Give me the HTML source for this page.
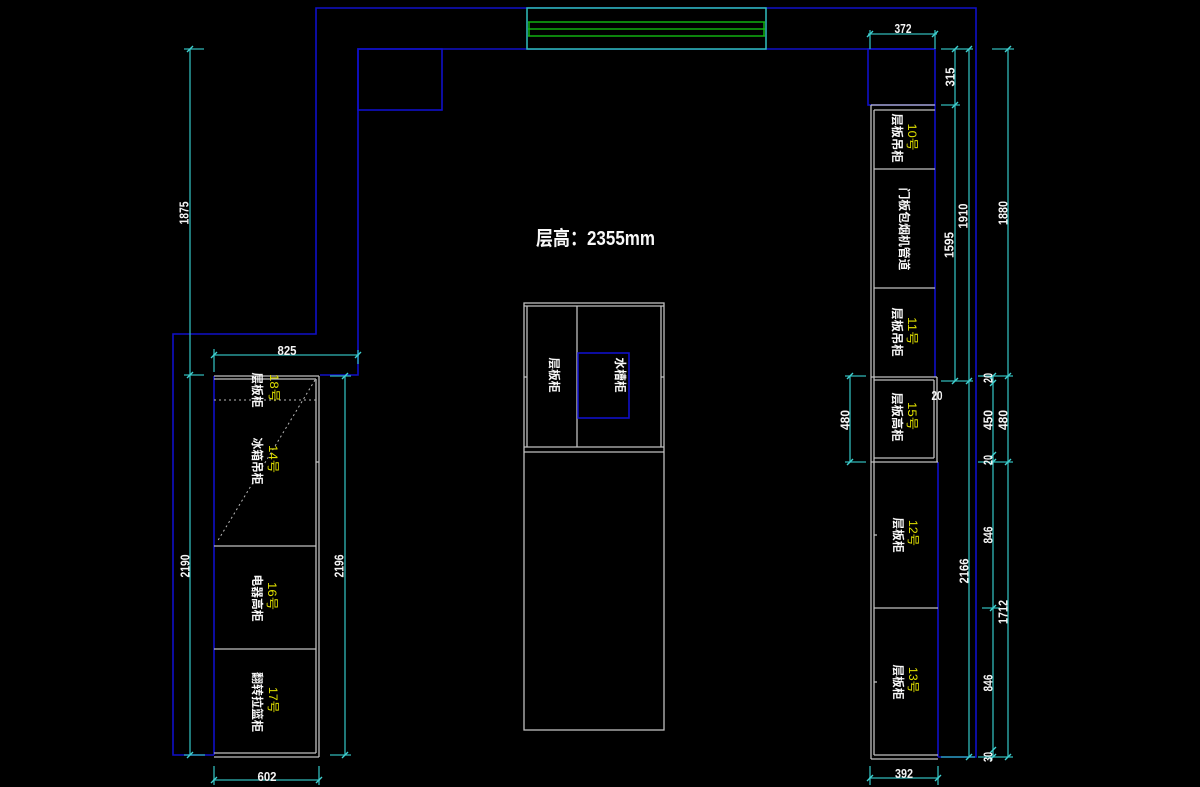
<!DOCTYPE html>
<html><head><meta charset="utf-8"><style>
html,body{margin:0;padding:0;background:#000;}
svg{display:block;}
text{font-family:"Liberation Sans","Noto Sans CJK SC",sans-serif;}
.b{stroke:#1010c8;stroke-width:1.6;fill:none;}
.c{stroke:#30b8b8;stroke-width:1.3;fill:none;}
.g{stroke:#c0c0c0;stroke-width:1.3;fill:none;}
.gn{stroke:#10b010;stroke-width:1.5;fill:none;}
.w{fill:#f8f8f8;font-size:12px;font-weight:bold;}
.y{fill:#e0e000;font-size:12px;}
.n{fill:#f4f4f4;font-size:13px;font-weight:bold;font-family:"Liberation Sans Narrow","Liberation Sans",sans-serif;}
</style></head><body>
<svg width="1200" height="787" viewBox="0 0 1200 787" xmlns="http://www.w3.org/2000/svg">
<rect width="1200" height="787" fill="#000"/>

<!-- blue walls -->
<polyline class="b" points="214,755 173,755 173,334 316,334 316,8 976,8 976,757 938,757"/>
<polyline class="b" points="320,375 358,375 358,49 935,49"/>
<rect class="b" x="358" y="49" width="84" height="61"/>
<rect class="b" x="868" y="49" width="67" height="56"/>
<line class="b" x1="214" y1="376" x2="214" y2="755"/>
<line class="b" x1="935" y1="105" x2="935" y2="377"/>
<line class="b" x1="938" y1="462" x2="938" y2="757"/>

<!-- hood box -->
<rect x="527" y="8" width="239" height="41" fill="#000" stroke="#30c0c0" stroke-width="1.5"/>
<line class="gn" x1="528" y1="22" x2="765" y2="22"/>
<line class="gn" x1="528" y1="29" x2="765" y2="29"/>
<line class="gn" x1="528" y1="36" x2="765" y2="36"/>
<line class="gn" x1="529" y1="22" x2="529" y2="36"/>
<line class="gn" x1="764" y1="22" x2="764" y2="36"/>

<!-- left cabinets -->
<line class="g" x1="214" y1="376" x2="319" y2="376"/>
<line class="g" x1="214" y1="379" x2="316" y2="379"/>
<line class="g" x1="319" y1="376" x2="319" y2="757"/>
<line class="g" x1="316" y1="379" x2="316" y2="753"/>
<line class="g" x1="214" y1="546" x2="316" y2="546"/>
<line class="g" x1="214" y1="649" x2="316" y2="649"/>
<line class="g" x1="214" y1="753" x2="316" y2="753"/>
<line class="g" x1="214" y1="757" x2="319" y2="757"/>
<line x1="214" y1="400" x2="316" y2="400" stroke="#b8b8b8" stroke-width="1" stroke-dasharray="2,3"/>
<line x1="315" y1="380" x2="217" y2="542" stroke="#b8b8b8" stroke-width="1" stroke-dasharray="2,3"/>
<line class="g" x1="316" y1="462" x2="319" y2="462"/>

<!-- right cabinets -->
<line class="g" x1="871" y1="105" x2="935" y2="105"/>
<line class="g" x1="874" y1="110" x2="935" y2="110"/>
<line class="g" x1="871" y1="105" x2="871" y2="759"/>
<line class="g" x1="874" y1="110" x2="874" y2="755"/>
<line class="g" x1="874" y1="169" x2="935" y2="169"/>
<line class="g" x1="874" y1="288" x2="935" y2="288"/>
<line class="g" x1="871" y1="377" x2="937" y2="377"/>
<line class="g" x1="874" y1="380" x2="934" y2="380"/>
<line class="g" x1="937" y1="377" x2="937" y2="462"/>
<line class="g" x1="934" y1="380" x2="934" y2="458"/>
<line class="g" x1="874" y1="458" x2="934" y2="458"/>
<line class="g" x1="871" y1="462" x2="938" y2="462"/>
<line class="g" x1="874" y1="608" x2="938" y2="608"/>
<line class="g" x1="874" y1="755" x2="938" y2="755"/>
<line class="g" x1="871" y1="759" x2="938" y2="759"/>
<line class="g" x1="874" y1="535" x2="877" y2="535"/>
<line class="g" x1="874" y1="682" x2="877" y2="682"/>

<!-- island -->
<rect class="g" x="524" y="303" width="140" height="427"/>
<line class="g" x1="524" y1="306" x2="664" y2="306"/>
<line class="g" x1="527" y1="306" x2="527" y2="447"/>
<line class="g" x1="661" y1="306" x2="661" y2="447"/>
<line class="g" x1="577" y1="306" x2="577" y2="447"/>
<line class="g" x1="524" y1="447" x2="664" y2="447"/>
<line class="g" x1="524" y1="452" x2="664" y2="452"/>
<line class="g" x1="524" y1="377" x2="527" y2="377"/>
<line class="g" x1="661" y1="377" x2="664" y2="377"/>
<rect class="b" x="578" y="353" width="51" height="65"/>

<!-- dimension lines -->
<g class="c">
<line x1="190" y1="49" x2="190" y2="755"/>
<line x1="184" y1="49" x2="204" y2="49"/><line x1="184" y1="375" x2="204" y2="375"/><line x1="184" y1="755" x2="205" y2="755"/>
<line x1="345" y1="376" x2="345" y2="755"/>
<line x1="330" y1="376" x2="351" y2="376"/><line x1="330" y1="755" x2="351" y2="755"/>
<line x1="850" y1="376" x2="850" y2="462"/>
<line x1="845" y1="376" x2="866" y2="376"/><line x1="845" y1="462" x2="866" y2="462"/>
<line x1="955" y1="49" x2="955" y2="381"/>
<line x1="941" y1="49" x2="973" y2="49"/><line x1="941" y1="105" x2="960" y2="105"/><line x1="941" y1="381" x2="973" y2="381"/>
<line x1="969" y1="49" x2="969" y2="757"/>
<line x1="941" y1="757" x2="975" y2="757"/>
<line x1="993" y1="376" x2="993" y2="757"/>
<line x1="1008" y1="49" x2="1008" y2="757"/>
<line x1="992" y1="49" x2="1014" y2="49"/>
<line x1="978" y1="376" x2="1013" y2="376"/><line x1="978" y1="462" x2="1013" y2="462"/>
<line x1="982" y1="608" x2="1000" y2="608"/>
<line x1="978" y1="757" x2="1013" y2="757"/>
<line x1="868" y1="34" x2="937" y2="34"/>
<line x1="870" y1="30" x2="870" y2="49"/><line x1="935" y1="30" x2="935" y2="49"/>
<line x1="213" y1="355" x2="359" y2="355"/>
<line x1="214" y1="349" x2="214" y2="372"/><line x1="358" y1="350" x2="358" y2="364"/>
<line x1="213" y1="780" x2="320" y2="780"/>
<line x1="214" y1="766" x2="214" y2="785"/><line x1="319" y1="766" x2="319" y2="785"/>
<line x1="869" y1="778" x2="939" y2="778"/>
<line x1="870" y1="766" x2="870" y2="785"/><line x1="938" y1="766" x2="938" y2="785"/>
</g>
<!-- ticks -->
<g stroke="#40d0d0" stroke-width="1.4">
<path d="M187,52 L193,46 M187,378 L193,372 M187,758 L193,752 M342,379 L348,373 M342,758 L348,752 M847,379 L853,373 M847,465 L853,459 M952,52 L958,46 M952,108 L958,102 M952,384 L958,378 M966,52 L972,46 M966,384 L972,378 M966,760 L972,754 M990,379 L996,373 M990,386 L996,380 M990,458 L996,452 M990,465 L996,459 M990,611 L996,605 M990,753 L996,747 M990,760 L996,754 M1005,52 L1011,46 M1005,379 L1011,373 M1005,465 L1011,459 M1005,760 L1011,754 M867,37 L873,31 M932,37 L938,31 M211,358 L217,352 M355,358 L361,352 M211,783 L217,777 M316,783 L322,777 M867,781 L873,775 M935,781 L941,775"/>
</g>

<!-- title -->
<text x="536" y="245" fill="#f8f8f8" font-size="20" font-weight="bold" textLength="119" lengthAdjust="spacingAndGlyphs">层高：2355mm</text>

<!-- horizontal dim text -->
<text class="n" x="287" y="355" text-anchor="middle" textLength="19" lengthAdjust="spacingAndGlyphs">825</text>
<text class="n" x="267" y="781" text-anchor="middle" textLength="19" lengthAdjust="spacingAndGlyphs">602</text>
<text class="n" x="903" y="33" text-anchor="middle" textLength="17" lengthAdjust="spacingAndGlyphs">372</text>
<text class="n" x="904" y="778" text-anchor="middle" textLength="18" lengthAdjust="spacingAndGlyphs">392</text>
<text class="n" x="937" y="400" text-anchor="middle" textLength="11" lengthAdjust="spacingAndGlyphs">20</text>

<!-- vertical dim text (rotate -90) -->
<g class="n" text-anchor="middle" dominant-baseline="central">
<text transform="translate(184,213) rotate(-90)" textLength="23" lengthAdjust="spacingAndGlyphs">1875</text>
<text transform="translate(185,566) rotate(-90)" textLength="23" lengthAdjust="spacingAndGlyphs">2190</text>
<text transform="translate(339,566) rotate(-90)" textLength="23" lengthAdjust="spacingAndGlyphs">2196</text>
<text transform="translate(845,420) rotate(-90)" textLength="20" lengthAdjust="spacingAndGlyphs">480</text>
<text transform="translate(950,77) rotate(-90)" textLength="19" lengthAdjust="spacingAndGlyphs">315</text>
<text transform="translate(949,245) rotate(-90)" textLength="26" lengthAdjust="spacingAndGlyphs">1595</text>
<text transform="translate(963,216) rotate(-90)" textLength="25" lengthAdjust="spacingAndGlyphs">1910</text>
<text transform="translate(1003,213) rotate(-90)" textLength="24" lengthAdjust="spacingAndGlyphs">1880</text>
<text transform="translate(964,571) rotate(-90)" textLength="25" lengthAdjust="spacingAndGlyphs">2166</text>
<text transform="translate(988,378) rotate(-90)" textLength="10" lengthAdjust="spacingAndGlyphs">20</text>
<text transform="translate(988,420) rotate(-90)" textLength="20" lengthAdjust="spacingAndGlyphs">450</text>
<text transform="translate(988,460) rotate(-90)" textLength="10" lengthAdjust="spacingAndGlyphs">20</text>
<text transform="translate(988,535) rotate(-90)" textLength="17" lengthAdjust="spacingAndGlyphs">846</text>
<text transform="translate(988,683) rotate(-90)" textLength="17" lengthAdjust="spacingAndGlyphs">846</text>
<text transform="translate(988,757) rotate(-90)" textLength="10" lengthAdjust="spacingAndGlyphs">30</text>
<text transform="translate(1003,420) rotate(-90)" textLength="20" lengthAdjust="spacingAndGlyphs">480</text>
<text transform="translate(1003,612) rotate(-90)" textLength="24" lengthAdjust="spacingAndGlyphs">1712</text>
</g>

<!-- cabinet labels (rotate 90) -->
<g text-anchor="middle" dominant-baseline="central">
<text class="w" transform="translate(257,390) rotate(90)" textLength="35" lengthAdjust="spacingAndGlyphs">层板柜</text>
<text class="y" transform="translate(274,388) rotate(90)" textLength="28" lengthAdjust="spacingAndGlyphs">18号</text>
<text class="w" transform="translate(257,461) rotate(90)" textLength="47" lengthAdjust="spacingAndGlyphs">冰箱吊柜</text>
<text class="y" transform="translate(273,459) rotate(90)" textLength="28" lengthAdjust="spacingAndGlyphs">14号</text>
<text class="w" transform="translate(257,598) rotate(90)" textLength="47" lengthAdjust="spacingAndGlyphs">电器高柜</text>
<text class="y" transform="translate(272,596) rotate(90)" textLength="28" lengthAdjust="spacingAndGlyphs">16号</text>
<text class="w" transform="translate(257,702) rotate(90)" textLength="60" lengthAdjust="spacingAndGlyphs">翻转拉篮柜</text>
<text class="y" transform="translate(273,700) rotate(90)" textLength="26" lengthAdjust="spacingAndGlyphs">17号</text>

<text class="w" transform="translate(897,138) rotate(90)" textLength="49" lengthAdjust="spacingAndGlyphs">层板吊柜</text>
<text class="y" transform="translate(912,137) rotate(90)" textLength="27" lengthAdjust="spacingAndGlyphs">10号</text>
<text class="w" transform="translate(904,229) rotate(90)" textLength="83" lengthAdjust="spacingAndGlyphs">门板包烟机管道</text>
<text class="w" transform="translate(897,332) rotate(90)" textLength="49" lengthAdjust="spacingAndGlyphs">层板吊柜</text>
<text class="y" transform="translate(912,331) rotate(90)" textLength="28" lengthAdjust="spacingAndGlyphs">11号</text>
<text class="w" transform="translate(897,417) rotate(90)" textLength="49" lengthAdjust="spacingAndGlyphs">层板高柜</text>
<text class="y" transform="translate(912,416) rotate(90)" textLength="28" lengthAdjust="spacingAndGlyphs">15号</text>
<text class="w" transform="translate(898,535) rotate(90)" textLength="35" lengthAdjust="spacingAndGlyphs">层板柜</text>
<text class="y" transform="translate(913,533) rotate(90)" textLength="26" lengthAdjust="spacingAndGlyphs">12号</text>
<text class="w" transform="translate(898,682) rotate(90)" textLength="35" lengthAdjust="spacingAndGlyphs">层板柜</text>
<text class="y" transform="translate(913,680) rotate(90)" textLength="26" lengthAdjust="spacingAndGlyphs">13号</text>

<text class="w" transform="translate(554,375) rotate(90)" textLength="35" lengthAdjust="spacingAndGlyphs">层板柜</text>
<text class="w" transform="translate(620,375) rotate(90)" textLength="35" lengthAdjust="spacingAndGlyphs">水槽柜</text>
</g>
</svg>
</body></html>
